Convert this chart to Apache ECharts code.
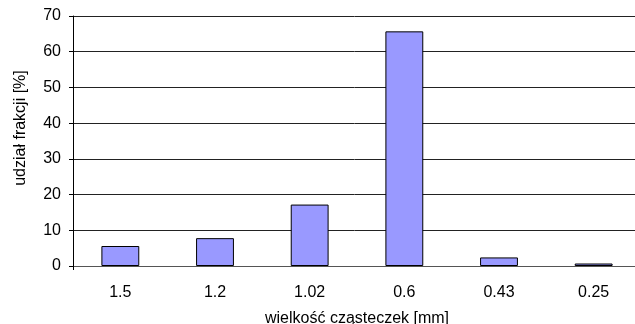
<!DOCTYPE html>
<html>
<head>
<meta charset="utf-8">
<script src="https://cdn.jsdelivr.net/npm/echarts@6/dist/echarts.min.js"></script>
<style>html,body{margin:0;padding:0;background:#fff}#c{width:635px;height:324px}</style>
</head>
<body>
<div id="c"></div>
<script>
const categories = ['1.5', '1.2', '1.02', '0.6', '0.43', '0.25'];
const values = [5.6, 7.8, 17.2, 65.7, 2.4, 0.7];
const yTicks = { min: 0, max: 70, interval: 10 };
const xName = 'wielkość cząsteczek [mm]';
const yName = 'udział frakcji [%]';

const chart = echarts.init(document.getElementById('c'), null, { renderer: 'canvas' });
const font = 'Liberation Sans, Arial, sans-serif';
chart.setOption({
  animation: false,
  grid: { left: 73, right: -6, top: 16, bottom: 58, containLabel: false, outerBoundsMode: 'none' },
  xAxis: {
    type: 'category',
    data: categories,
    name: xName,
    nameLocation: 'middle',
    nameGap: 45,
    nameTextStyle: { fontFamily: font, fontSize: 16, color: '#000' },
    axisLine: { lineStyle: { color: '#555', width: 1 } },
    axisTick: { show: true, length: 4, interval: function (i) { return i === 0; }, lineStyle: { color: '#000' } },
    axisLabel: { margin: 19, fontFamily: font, fontSize: 16, color: '#000' }
  },
  yAxis: {
    type: 'value',
    min: yTicks.min, max: yTicks.max, interval: yTicks.interval,
    name: yName,
    nameLocation: 'middle',
    nameGap: 44,
    nameTextStyle: { fontFamily: font, fontSize: 16, color: '#000', padding: [0, 0, 0, 26] },
    axisLine: { show: true, lineStyle: { color: '#000', width: 1 } },
    axisTick: { show: true, length: 4, lineStyle: { color: '#000' } },
    axisLabel: { margin: 12, fontFamily: font, fontSize: 16, color: '#000' },
    splitLine: { show: true, lineStyle: { color: '#222', width: 1 } }
  },
  series: [{
    type: 'bar',
    data: values,
    barWidth: '40%',
    itemStyle: { color: '#9999FF', borderColor: '#000', borderWidth: 1 }
  }]
});
</script>
</body>
</html>
